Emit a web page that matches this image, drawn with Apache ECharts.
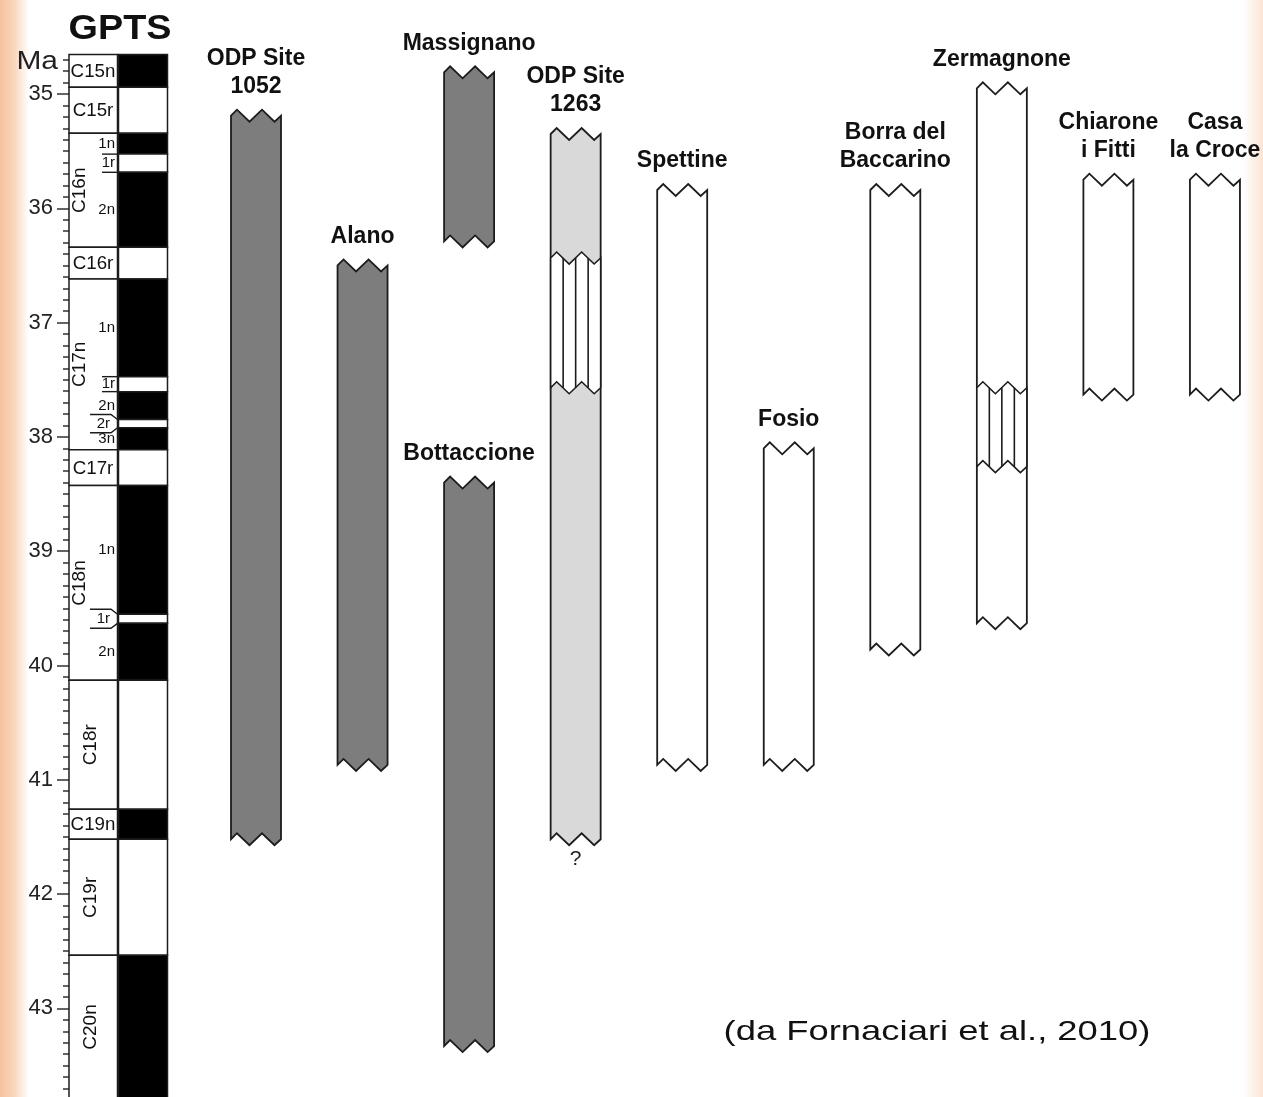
<!DOCTYPE html>
<html><head><meta charset="utf-8">
<script src="https://cdn.jsdelivr.net/npm/echarts@6/dist/echarts.min.js"></script>
<style>html,body{margin:0;padding:0;background:#fff}#c{width:1263px;height:1097px}</style>
</head><body><div id="c"></div>
<script>
// ================= DATA =================
// Geomagnetic polarity time scale (Ma): polarity intervals, top -> base
const polarityTop  = [34.655,34.940,35.343,35.526,35.685,36.341,36.618,37.473,37.604,37.848,37.920,38.113,38.426,39.552,39.631,40.130,41.257,41.521,42.536];
const polarityBase = [34.940,35.343,35.526,35.685,36.341,36.618,37.473,37.604,37.848,37.920,38.113,38.426,39.552,39.631,40.130,41.257,41.521,42.536,43.789];
const polarityNormal = [1,0,1,0,1,0,1,0,1,0,1,0,1,0,1,0,1,0,1];
const subchronLabels = ['','','1n','1r','2n','','1n','1r','2n','2r','3n','','1n','1r','2n','','','',''];

// Chrons
const chronNames  = ['C15n','C15r','C16n','C16r','C17n','C17r','C18n','C18r','C19n','C19r','C20n'];
const chronTop    = [34.655,34.940,35.343,36.341,36.618,38.113,38.426,40.130,41.257,41.521,42.536];
const chronBase   = [34.940,35.343,36.341,36.618,38.113,38.426,40.130,41.257,41.521,42.536,43.789];
const chronHasSub = [0,0,1,0,1,0,1,0,0,0,0];

// Sections (column index, age range in Ma)
const sectionNames  = ['ODP Site\n1052','Alano','Massignano','Bottaccione','ODP Site\n1263','Spettine','Fosio','Borra del\nBaccarino','Zermagnone','Chiarone\ni Fitti','Casa\nla Croce'];
const sectionColumn = [0,1,2,2,3,4,5,6,7,8,9];
const sectionTop    = [35.19,36.50,34.81,38.40,35.35,35.84,38.10,35.84,34.95,35.75,35.75];
const sectionBase   = [41.52,40.87,36.29,43.33,41.52,40.87,40.87,39.86,39.63,37.63,37.63];
const sectionType   = ['dark','dark','dark','dark','light','open','open','open','open','open','open'];
const sectionBaseNote = ['','','','','?','','','','','',''];

// Hatched intervals inside sections
const gapColumn = [3,7];
const gapTop    = [36.435,37.57];
const gapBase   = [37.57,38.26];

// Axis ticks (Ma)
const majorTickMin = 35, majorTickMax = 43, majorTickStep = 1;
const minorTickMin = 34.7, minorTickMax = 43.7, minorTickStep = 0.1;

// ================= LAYOUT / STYLE =================
const W = 1263, H = 1097;
const Y_MIN = 34.1776, Y_MAX = 43.7752;       // visible age range of main grid
const X_MIN = -2.40263, X_MAX = 9.45096;      // column index range
const GPTS_X = -1.29517;                      // GPTS column position (index units)
const COL_HALF = 25;
const FONT = '"Liberation Sans", Arial, Helvetica, sans-serif';
const STROKE = '#1c1c1c';
const FILLS = {dark:'#7d7d7d', light:'#d9d9d9', open:'#ffffff'};
const ZIG_F = [0, 0.12, 0.37, 0.62, 0.87, 1];
const ZIG_D = [0, -6, 6, -6, 6, 0];

function yOf(v){ return (v - Y_MIN)/(Y_MAX - Y_MIN)*H; }
function zig(xL, w, y){ return ZIG_F.map((f,k)=>[xL + f*w, y + ZIG_D[k]]); }

function renderPolarity(params, api){
  const a = api.coord([api.value(0), api.value(1)]);
  const b = api.coord([api.value(0), api.value(2)]);
  const cx = a[0];
  return {type:'rect', shape:{x:cx+0.5, y:a[1], width:49, height:b[1]-a[1]},
    style:{fill: api.value(3) ? '#000' : '#fff', stroke:STROKE, lineWidth:1.5}};
}

function renderChron(params, api){
  const i = params.dataIndex;
  const a = api.coord([api.value(0), api.value(1)]);
  const b = api.coord([api.value(0), api.value(2)]);
  const cx = a[0];
  const h = b[1]-a[1];
  const children = [{type:'rect', shape:{x:cx-49, y:a[1], width:48.5, height:h},
    style:{fill:'#fff', stroke:STROKE, lineWidth:1.5}}];
  const my = (a[1]+b[1])/2;
  if (h > 80) {
    const lx = chronHasSub[i] ? cx-38 : cx-27;
    children.push({type:'text', x:lx, y:my, rotation:Math.PI/2,
      style:{x:0, y:0, text:chronNames[i], align:'center', verticalAlign:'middle',
        font:'19px '+FONT, fill:'#111'}});
  } else {
    children.push({type:'text', x:cx-25, y:my+1, scaleX:1.04,
      style:{x:0, y:0, text:chronNames[i], align:'center', verticalAlign:'middle',
        font:'18px '+FONT, fill:'#111'}});
  }
  return {type:'group', children};
}

function renderSub(params, api){
  const i = params.dataIndex;
  const lab = subchronLabels[i];
  if (!lab) return null;
  const a = api.coord([api.value(0), api.value(1)]);
  const b = api.coord([api.value(0), api.value(2)]);
  const cx = a[0];
  const h = b[1]-a[1];
  const my = (a[1]+b[1])/2;
  const children = [];
  const spread = h < 12;
  if (!polarityNormal[i]) {
    const ls = {stroke:STROKE, lineWidth:1.4, fill:null};
    if (spread) {
      children.push({type:'polyline', shape:{points:[[cx-28,a[1]-5],[cx-7,a[1]-5],[cx-0.5,a[1]]]}, style:ls});
      children.push({type:'polyline', shape:{points:[[cx-28,b[1]+5],[cx-7,b[1]+5],[cx-0.5,b[1]]]}, style:ls});
    } else {
      children.push({type:'polyline', shape:{points:[[cx-16,a[1]],[cx-0.5,a[1]]]}, style:ls});
      children.push({type:'polyline', shape:{points:[[cx-16,b[1]],[cx-0.5,b[1]]]}, style:ls});
    }
  }
  children.push({type:'text', x: spread ? cx-8 : cx-3, y: my,
    style:{x:0, y:0, text:lab, align:'right', verticalAlign:'middle', font:'15px '+FONT, fill:'#111'}});
  return {type:'group', children};
}

function renderSection(params, api){
  const i = params.dataIndex;
  const a = api.coord([api.value(0), api.value(1)]);
  const b = api.coord([api.value(0), api.value(2)]);
  const xL = a[0]-COL_HALF, w = 2*COL_HALF;
  const pts = zig(xL, w, a[1]).concat(zig(xL, w, b[1]).reverse());
  const children = [
    {type:'polygon', shape:{points:pts}, style:{fill:FILLS[sectionType[i]], stroke:STROKE, lineWidth:1.8, lineJoin:'miter'}},
    {type:'text', x:a[0], y:a[1]-15, style:{x:0, y:0, text:sectionNames[i], align:'center', verticalAlign:'bottom',
      font:'bold 23px '+FONT, lineHeight:28, fill:'#111'}}
  ];
  if (sectionBaseNote[i]) {
    children.push({type:'text', x:a[0], y:b[1]+20, style:{x:0, y:0, text:sectionBaseNote[i], align:'center',
      verticalAlign:'middle', font:'21px '+FONT, fill:'#222'}});
  }
  return {type:'group', children};
}

function renderGap(params, api){
  const a = api.coord([api.value(0), api.value(1)]);
  const b = api.coord([api.value(0), api.value(2)]);
  const xL = a[0]-COL_HALF, w = 2*COL_HALF;
  const pts = zig(xL, w, a[1]).concat(zig(xL, w, b[1]).reverse());
  const children = [{type:'polygon', shape:{points:pts}, style:{fill:'#fff', stroke:STROKE, lineWidth:1.6}}];
  [0.25,0.5,0.75].forEach(f=>{
    children.push({type:'line', shape:{x1:xL+f*w, y1:a[1], x2:xL+f*w, y2:b[1]}, style:{stroke:STROKE, lineWidth:1.6}});
  });
  return {type:'group', children};
}

const chart = echarts.init(document.getElementById('c'), null, {renderer:'canvas', width:W, height:H});

const minorTop = yOf(minorTickMin), minorBot = H - yOf(minorTickMax);
const majorTop = yOf(majorTickMin), majorBot = H - yOf(majorTickMax);

chart.setOption({
  animation:false,
  backgroundColor:'#ffffff',
  graphic:[
    {type:'rect', z:-10, silent:true, shape:{x:0, y:0, width:W, height:H},
      style:{fill:{type:'linear', x:0, y:0, x2:1, y2:0, colorStops:[
        {offset:0, color:'#f5c29e'}, {offset:0.011, color:'#f8d6bd'}, {offset:0.023, color:'#ffffff'},
        {offset:0.984, color:'#ffffff'}, {offset:1, color:'#fce4d4'}]}}},
    {type:'text', z:10, x:120, y:29, scaleX:1.08, style:{x:0, y:0, text:'GPTS', align:'center', verticalAlign:'middle',
      font:'bold 35px '+FONT, fill:'#111'}},
    {type:'text', z:10, x:58, y:62, scaleX:1.15, style:{x:0, y:0, text:'Ma', align:'right', verticalAlign:'middle',
      font:'26px '+FONT, fill:'#222'}},
    {type:'text', z:10, x:937, y:1032, scaleX:1.3, style:{x:0, y:0, text:'(da Fornaciari et al., 2010)', align:'center',
      verticalAlign:'middle', font:'28px '+FONT, fill:'#111'}}
  ],
  grid:[
    {left:0, right:0, top:0, bottom:0, outerBoundsMode:'none'},
    {left:69, width:10, top:minorTop, bottom:minorBot, outerBoundsMode:'none'},
    {left:69, width:10, top:majorTop, bottom:majorBot, outerBoundsMode:'none'}
  ],
  xAxis:[
    {gridIndex:0, type:'value', min:X_MIN, max:X_MAX, show:false},
    {gridIndex:1, type:'value', min:0, max:1, show:false},
    {gridIndex:2, type:'value', min:0, max:1, show:false}
  ],
  yAxis:[
    {gridIndex:0, type:'value', inverse:true, min:Y_MIN, max:Y_MAX, show:false},
    {gridIndex:1, type:'value', inverse:true, min:minorTickMin, max:minorTickMax, interval:minorTickStep,
      axisLine:{show:false}, axisTick:{show:true, length:6, lineStyle:{color:'#333', width:1.5}},
      axisLabel:{show:false}, splitLine:{show:false}},
    {gridIndex:2, type:'value', inverse:true, min:majorTickMin, max:majorTickMax, interval:majorTickStep,
      axisLine:{show:false}, axisTick:{show:true, length:12, lineStyle:{color:'#333', width:1.5}},
      axisLabel:{show:true, margin:16, fontSize:22, fontFamily:FONT, color:'#222'}, splitLine:{show:false}}
  ],
  series:[
    {type:'custom', name:'sections', xAxisIndex:0, yAxisIndex:0, clip:false, z:2, renderItem:renderSection,
      data: sectionColumn.map((c,i)=>[c, sectionTop[i], sectionBase[i]])},
    {type:'custom', name:'gaps', xAxisIndex:0, yAxisIndex:0, clip:false, z:3, renderItem:renderGap,
      data: gapColumn.map((c,i)=>[c, gapTop[i], gapBase[i]])},
    {type:'custom', name:'chrons', xAxisIndex:0, yAxisIndex:0, clip:false, z:2, renderItem:renderChron,
      data: chronTop.map((t,i)=>[GPTS_X, t, chronBase[i]])},
    {type:'custom', name:'polarity', xAxisIndex:0, yAxisIndex:0, clip:false, z:3, renderItem:renderPolarity,
      data: polarityTop.map((t,i)=>[GPTS_X, t, polarityBase[i], polarityNormal[i]])},
    {type:'custom', name:'subchrons', xAxisIndex:0, yAxisIndex:0, clip:false, z:4, renderItem:renderSub,
      data: polarityTop.map((t,i)=>[GPTS_X, t, polarityBase[i]])}
  ]
});
</script></body></html>
